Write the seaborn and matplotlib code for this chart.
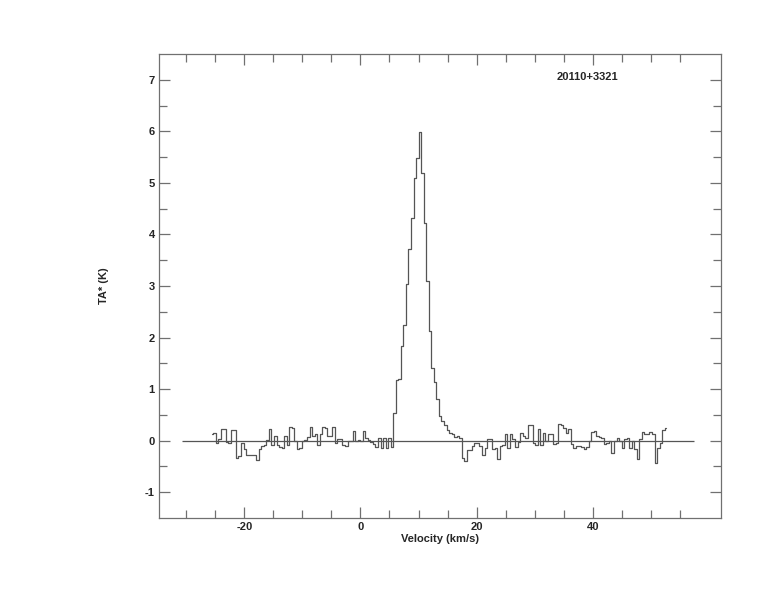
import numpy as np
import pandas as pd
import matplotlib
matplotlib.use("Agg")
import matplotlib.pyplot as plt
import seaborn as sns

# spectrum: channel grid + antenna temperature
v_start = -25.6
dv = 0.437
ta = [
    0.13, 0.15, -0.05, 0.03, 0.23, 0.22, -0.02, -0.05, 0.21, 0.21,
    -0.33, -0.30, -0.05, -0.16, -0.27, -0.27, -0.27, -0.27, -0.38, -0.16,
    -0.11, -0.08, 0.02, 0.23, -0.08, 0.10, -0.08, -0.12, -0.14, 0.10,
    -0.08, 0.26, 0.24, 0.00, -0.16,
    -0.15, 0.00, 0.02, 0.07, 0.27, 0.10, 0.12, -0.09, 0.13, 0.26,
    0.25, 0.10, 0.10, 0.26, -0.05, 0.04, 0.04, -0.08, -0.11, 0.00,
    0.00, 0.19, -0.01, 0.02, -0.01, 0.19, 0.05, 0.02, -0.03, -0.07,
    -0.12, 0.05, -0.14, 0.05, -0.14, 0.05, -0.12,
    0.54, 1.17, 1.19, 1.83, 2.25, 3.03, 3.71, 4.32, 5.10, 5.48,
    5.98, 5.20, 4.23, 3.10, 2.12, 1.40, 1.13, 0.80, 0.47, 0.38,
    0.31, 0.21, 0.15, 0.12, 0.08, 0.10, 0.06,
    -0.34, -0.40, -0.19, -0.19, -0.11, -0.05, -0.05, -0.11, -0.27, -0.14,
    0.04, 0.04, -0.17, -0.15, -0.35, -0.11, -0.08, 0.13, -0.14, 0.13,
    0.04, -0.13, -0.03, 0.15, 0.09, 0.05, 0.31, 0.31, -0.05,
    -0.09, 0.23, -0.08, 0.15, 0.00, 0.12, 0.13, -0.06, -0.05, 0.32,
    0.30, 0.24, 0.15, 0.23, -0.06, -0.14, -0.11, -0.11, -0.13, -0.17,
    -0.12, 0.00, 0.17, 0.18, 0.10, 0.08, 0.05, -0.06, -0.05, 0.00,
    -0.24, -0.01, 0.06, 0.00, -0.15, 0.04, 0.05,
    -0.15, -0.01, -0.17, -0.35, 0.04, 0.17, 0.13, 0.13, 0.17, 0.12,
    -0.43, -0.14, -0.05, 0.21, 0.25,
]
velocity = v_start + dv * np.arange(len(ta))
source_name = "20110+3321"
baseline_range = (-30.7, 57.4)

df = pd.DataFrame({"velocity": velocity, "ta": ta})

sns.set_style("ticks")
plt.rcParams["font.family"] = ["Liberation Sans", "DejaVu Sans"]
plt.rcParams["font.weight"] = "bold"
plt.rcParams["axes.unicode_minus"] = False

fig = plt.figure(figsize=(7.74, 6.12), dpi=100)
ax = fig.add_axes([159 / 774, 1 - 518 / 612, (721 - 159) / 774, (518 - 54) / 612])

frame_col = "#707070"
line_col = "#555555"

ax.hlines(0, *baseline_range, color=line_col, lw=0.9)
sns.lineplot(data=df, x="velocity", y="ta", ax=ax, color=line_col,
             lw=0.9, drawstyle="steps-mid", estimator=None, sort=False)

ax.set_xlim(-34.7, 62.1)
ax.set_ylim(-1.5, 7.5)
ax.set_xticks([-20, 0, 20, 40])
ax.set_xticks(np.arange(-30, 56, 5), minor=True)
ax.set_yticks(np.arange(-1, 8, 1))
ax.set_yticks(np.arange(-0.5, 7, 1), minor=True)

ax.tick_params(which="both", direction="in", top=True, right=True,
               color=frame_col, width=0.9, labelsize=8, pad=3)
ax.tick_params(which="major", length=8)
ax.tick_params(which="minor", length=6)
for lab in ax.get_xticklabels() + ax.get_yticklabels():
    lab.set_fontweight("bold")

for s in ax.spines.values():
    s.set_color(frame_col)
    s.set_linewidth(0.9)

ax.set_xlabel("Velocity (km/s)", fontsize=8, fontweight="bold", labelpad=1)
ax.set_ylabel("TA* (K)", fontsize=8, fontweight="bold", labelpad=26)
ax.text(0.708, 0.95, source_name, transform=ax.transAxes, fontsize=8,
        fontweight="bold", ha="left", va="center")

fig.savefig("out.png", dpi=100)
